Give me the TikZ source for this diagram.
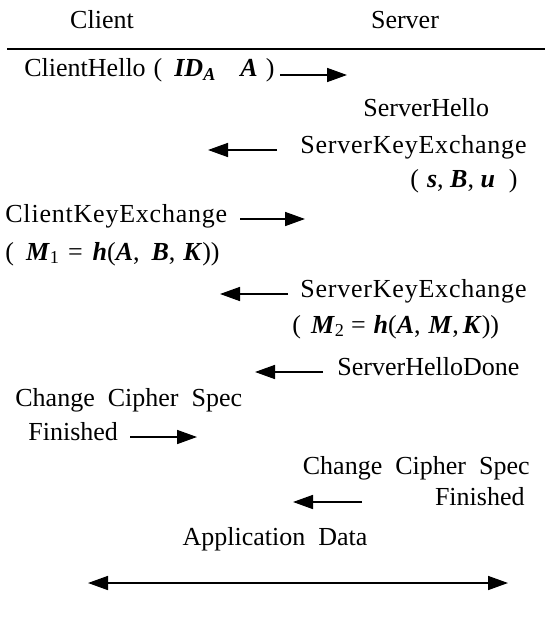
\documentclass[tikz,border=0pt]{standalone}
\usepackage{fontspec}
\setmainfont{Liberation Serif}
\usetikzlibrary{arrows.meta}

\newcommand{\vr}[1]{\textbf{\textit{#1}}}
\newcommand{\wsp}{\hspace{0.5em}}
\newcommand{\kx}[1]{{\addfontfeature{LetterSpace=3}#1}}

\begin{document}
\begin{tikzpicture}[
  x=0.5pt, y=-0.5pt,
  lbl/.style={font=\fontsize{13}{15}\selectfont, inner sep=0pt},
  lw/.style={lbl, anchor=base west},
  le/.style={lbl, anchor=base east},
  msg/.style={-{Triangle[length=10pt,width=7pt]}, line width=0.8pt},
  both/.style={{Triangle[length=10pt,width=7pt]}-{Triangle[length=10pt,width=7pt]}, line width=0.8pt}
]
\useasboundingbox (0,0) rectangle (545,631);

% header
\node[lbl, anchor=base] (client) at (102,29) {Client};
\node[lbl, anchor=base] (server) at (405,29) {Server};
\coordinate (rule-l) at (7,49);
\coordinate (rule-r) at (545,49);
\draw[line width=0.7pt] (rule-l) -- (rule-r);

% messages
\node[lw] (chello) at (24,77) {ClientHello\hspace{4pt}(\hspace{6pt}\vr{ID}\textsubscript{\vr{A}}\hspace{12pt}\vr{A}\hspace{4pt})};
\node[lw] (shello) at (363,117) {ServerHello};
\node[lw] (skex1) at (300,153) {\kx{ServerKeyExchange}};
\node[lw] (sbu) at (410,187) {(\hspace{4pt}\vr{s}, \vr{B}, \vr{u}\hspace{7pt})};
\node[lw] (ckex) at (5,222) {\kx{ClientKeyExchange}};
\node[lw] (mone) at (5,260) {(\hspace{6pt}\vr{M}\textsubscript{1}\hspace{4pt}=\hspace{5pt}\vr{h}(\vr{A},\hspace{6pt}\vr{B},\hspace{4pt}\vr{K}))};
\node[lw] (skex2) at (300,297) {\kx{ServerKeyExchange}};
\node[lw] (mtwo) at (292,333) {(\hspace{5pt}\vr{M}\textsubscript{2}\hspace{3pt}=\hspace{4pt}\vr{h}(\vr{A},\hspace{4pt}\vr{M},\hspace{2pt}\vr{K}))};
\node[lw] (shdone) at (337,375) {ServerHelloDone};
\node[lw] (ccs1) at (15,406) {Change\wsp Cipher\wsp Spec};
\node[lw] (fin1) at (28,440) {Finished};
\node[le] (ccs2) at (530,474) {Change\wsp Cipher\wsp Spec};
\node[le] (fin2) at (525,505) {Finished};
\node[lbl, anchor=base] (appdata) at (275,545) {Application\wsp Data};

% arrow ends
\coordinate (a1-from) at (280,75);  \coordinate (a1-to) at (347,75);
\coordinate (a2-from) at (277,150); \coordinate (a2-to) at (208,150);
\coordinate (a3-from) at (240,219); \coordinate (a3-to) at (305,219);
\coordinate (a4-from) at (288,294); \coordinate (a4-to) at (220,294);
\coordinate (a5-from) at (323,372); \coordinate (a5-to) at (255,372);
\coordinate (a6-from) at (130,437); \coordinate (a6-to) at (197,437);
\coordinate (a7-from) at (362,502); \coordinate (a7-to) at (293,502);
\coordinate (data-l) at (88,583);   \coordinate (data-r) at (508,583);

\draw[msg] (a1-from) -- (a1-to);
\draw[msg] (a2-from) -- (a2-to);
\draw[msg] (a3-from) -- (a3-to);
\draw[msg] (a4-from) -- (a4-to);
\draw[msg] (a5-from) -- (a5-to);
\draw[msg] (a6-from) -- (a6-to);
\draw[msg] (a7-from) -- (a7-to);
\draw[both] (data-l) -- (data-r);
\end{tikzpicture}
\end{document}
